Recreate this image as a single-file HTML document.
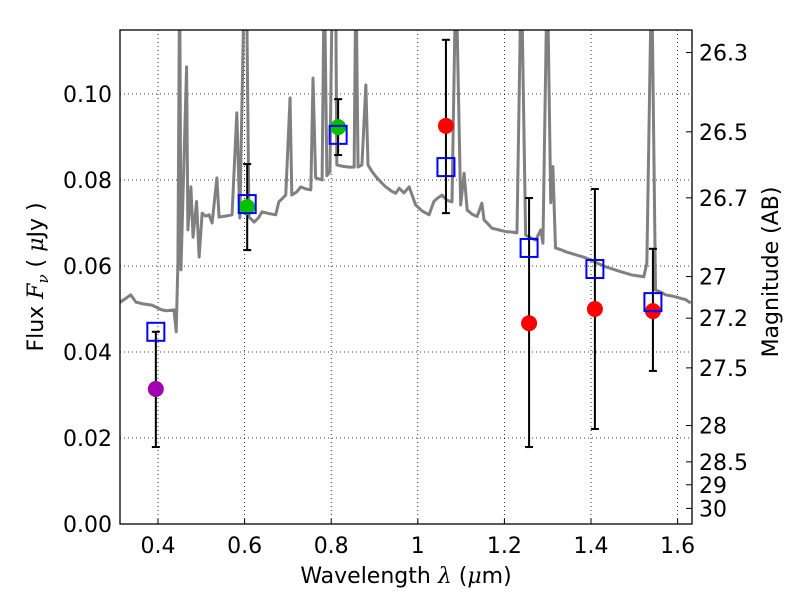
<!DOCTYPE html>
<html><head><meta charset="utf-8"><style>
body{margin:0;background:#fff}
svg text{font-family:"DejaVu Sans","Liberation Sans",sans-serif;font-size:22px;fill:#000}
</style></head><body>
<svg id="chart" width="800" height="600" viewBox="0 0 800 600" xmlns="http://www.w3.org/2000/svg">
<rect width="800" height="600" fill="#fff"/>
<g id="grid"></g>
<g id="spec"></g>
<g id="marks"></g>
<rect x="120" y="30" width="572" height="494" fill="none" stroke="#000" stroke-width="1.3"/>
<g id="axes"></g>
<text x="406" y="583" text-anchor="middle">Wavelength  <tspan font-style="italic" font-family="DejaVu Serif">λ</tspan> (<tspan font-style="italic" font-family="DejaVu Serif">μ</tspan>m)</text>
<text transform="translate(43,277) rotate(-90)" text-anchor="middle">Flux  <tspan font-style="italic" font-family="DejaVu Serif">F</tspan><tspan font-style="italic" font-family="DejaVu Serif" font-size="15" dy="5">ν</tspan><tspan dy="-5">  ( </tspan><tspan font-style="italic" font-family="DejaVu Serif">μ</tspan>Jy )</text>
<text transform="translate(778,272) rotate(-90)" text-anchor="middle">Magnitude (AB)</text>
</svg>
<script>
const xTicks=[0.4,0.6,0.8,1.0,1.2,1.4,1.6];
const xTickLabels=["0.4","0.6","0.8","1","1.2","1.4","1.6"];
const yTicks=[0,0.02,0.04,0.06,0.08,0.10];
const yTickLabels=["0.00","0.02","0.04","0.06","0.08","0.10"];
const magTicks=[26.3,26.5,26.7,27,27.2,27.5,28,28.5,29,30];
const magLabels=["26.3","26.5","26.7","27","27.2","27.5","28","28.5","29","30"];
const specLam=[0.310,0.322,0.337,0.349,0.365,0.386,0.398,0.409,0.420,0.437,0.442,0.446,0.450,0.453,0.466,0.469,0.476,0.481,0.489,0.495,0.502,0.510,0.518,0.525,0.536,0.541,0.556,0.571,0.582,0.589,0.600,0.604,0.610,0.622,0.632,0.640,0.656,0.672,0.679,0.695,0.705,0.709,0.720,0.730,0.742,0.753,0.758,0.764,0.779,0.784,0.790,0.797,0.803,0.810,0.813,0.826,0.841,0.853,0.857,0.862,0.871,0.880,0.885,0.894,0.903,0.915,0.926,0.938,0.949,0.957,0.968,0.980,0.995,1.010,1.026,1.037,1.046,1.056,1.067,1.079,1.088,1.099,1.107,1.114,1.126,1.137,1.148,1.153,1.162,1.171,1.187,1.203,1.216,1.229,1.239,1.249,1.260,1.272,1.284,1.289,1.299,1.307,1.312,1.318,1.330,1.342,1.365,1.388,1.411,1.434,1.465,1.495,1.522,1.529,1.540,1.549,1.560,1.572,1.588,1.603,1.618,1.630];
const specFlux=[0.0514,0.0522,0.0533,0.0516,0.0512,0.0509,0.0503,0.0498,0.0496,0.0498,0.0447,0.0607,0.13,0.0591,0.1063,0.0684,0.0784,0.0667,0.0750,0.0621,0.0723,0.0716,0.0719,0.0700,0.0805,0.0714,0.0716,0.0719,0.0956,0.0712,0.13,0.13,0.0714,0.0702,0.0712,0.0726,0.0722,0.0719,0.0749,0.0765,0.0991,0.0765,0.0772,0.0784,0.0779,0.0777,0.1037,0.0805,0.0800,0.13,0.0810,0.0819,0.13,0.13,0.0835,0.0832,0.0830,0.0830,0.13,0.0830,0.0835,0.1021,0.0835,0.0820,0.0808,0.0795,0.0784,0.0775,0.0769,0.0781,0.0770,0.0784,0.0742,0.0728,0.0719,0.0750,0.0758,0.0765,0.0753,0.0749,0.13,0.0742,0.0816,0.0730,0.0720,0.0715,0.0746,0.0707,0.0698,0.0688,0.0684,0.0680,0.0679,0.0677,0.13,0.0672,0.0666,0.0660,0.0684,0.0653,0.13,0.0747,0.0831,0.0642,0.0638,0.0633,0.0626,0.0619,0.0608,0.0598,0.0588,0.0579,0.0575,0.0607,0.13,0.0544,0.0540,0.0533,0.0530,0.0526,0.0522,0.0514];
const bandLam=[0.395,0.606,0.816,1.065,1.257,1.409,1.543];
const modelFlux=[0.0447,0.0744,0.0905,0.0830,0.0642,0.0593,0.0516];
const obsLam=[0.395,0.606,0.816,1.065,1.257,1.409,1.543];
const obsFlux=[0.0314,0.0737,0.0923,0.0926,0.0467,0.0500,0.0495];
const obsColor=["#a000b0","#00c000","#00c000","#ff0000","#ff0000","#ff0000","#ff0000"];
const errLo=[0.0179,0.0637,0.0858,0.0723,0.0179,0.0221,0.0356];
const errHi=[0.0447,0.0837,0.0988,0.1126,0.0758,0.0779,0.0640];
const X0=120,X1=692,Y0=30,Y1=524;
const xs=l=>158+(l-0.4)*433;
const ys=f=>524-f*4300;
const NS="http://www.w3.org/2000/svg";
function mk(p,t,a){const e=document.createElementNS(NS,t);for(const k in a)e.setAttribute(k,a[k]);p.appendChild(e);return e;}
const grid=document.getElementById('grid'),axes=document.getElementById('axes');
xTicks.forEach((t,i)=>{const x=xs(t);
 const g=mk(grid,'line',{x1:x,x2:x,y1:Y0,y2:Y1,stroke:'#000','stroke-width':0.8,'stroke-dasharray':'1,3'});
 
 const tk=mk(axes,'line',{x1:x,x2:x,y1:Y1,y2:Y1-5,stroke:'#000'});
 const lb=mk(axes,'text',{x:x,y:553,'text-anchor':'middle'});lb.textContent=xTickLabels[i];
 });
yTicks.forEach((t,i)=>{const y=ys(t);
 const g=mk(grid,'line',{x1:X0,x2:X1,y1:y,y2:y,stroke:'#000','stroke-width':0.8,'stroke-dasharray':'1,3'});
 
 const lb=mk(axes,'text',{x:112,y:y+8,'text-anchor':'end'});lb.textContent=yTickLabels[i];
 });
magTicks.forEach((m,i)=>{const y=ys(Math.pow(10,(23.9-m)/2.5));
 const tk=mk(axes,'line',{x1:X1,x2:X1-6,y1:y,y2:y,stroke:'#000'});
 const lb=mk(axes,'text',{x:699,y:y+8});lb.textContent=magLabels[i];
 });
const spec=document.getElementById('spec');
mk(spec,'clipPath',{id:'clip'});document.getElementById('clip').appendChild(document.createElementNS(NS,'rect'));
const cr=document.querySelector('#clip rect');cr.setAttribute('x',X0);cr.setAttribute('y',Y0);cr.setAttribute('width',X1-X0);cr.setAttribute('height',Y1-Y0);
const pl=mk(spec,'polyline',{points:specLam.map((l,i)=>xs(l)+','+ys(specFlux[i])).join(' '),fill:'none',stroke:'#808080','stroke-width':3,'clip-path':'url(#clip)','stroke-linejoin':'round'});

const marks=document.getElementById('marks');
bandLam.forEach((l,i)=>{const x=xs(obsLam[i]);
 const e=mk(marks,'line',{x1:x,x2:x,y1:ys(errLo[i]),y2:ys(errHi[i]),stroke:'#000','stroke-width':2});
 
 [errLo[i],errHi[i]].forEach(v=>{const c=mk(marks,'line',{x1:x-4,x2:x+4,y1:ys(v),y2:ys(v),stroke:'#000','stroke-width':2});
  });
 const d=mk(marks,'circle',{cx:x,cy:ys(obsFlux[i]),r:8,fill:obsColor[i]});
 
 const s=mk(marks,'rect',{x:xs(l)-8.5,y:ys(modelFlux[i])-9,width:17,height:18,fill:'none',stroke:'#0000ff','stroke-width':2});
 });
</script>
</body></html>
